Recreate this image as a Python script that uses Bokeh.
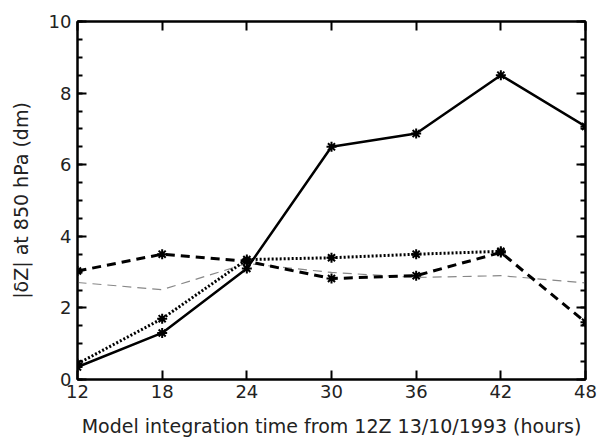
from bokeh.plotting import figure
from bokeh.models import LinearAxis, FixedTicker, Range1d, CustomJSTickFormatter
from bokeh.embed import file_html
from bokeh.resources import INLINE

hours = [12, 18, 24, 30, 36, 42, 48]
solid = [0.35, 1.3, 3.1, 6.5, 6.87, 8.5, 7.07]
thick_dash = [3.03, 3.5, 3.3, 2.82, 2.9, 3.55, 1.6]
dotted_hours = [12, 18, 24, 30, 36, 42]
dotted = [0.44, 1.7, 3.35, 3.4, 3.5, 3.58]
thin_dash = [2.71, 2.51, 3.24, 2.99, 2.85, 2.9, 2.7]
x_ticks = [12, 18, 24, 30, 36, 42, 48]
y_ticks = [0, 2, 4, 6, 8, 10]

FONT = "DejaVu Sans"

p = figure(width=597, height=439, output_backend="svg", toolbar_location=None,
           x_range=Range1d(12, 48), y_range=Range1d(0, 10),
           x_axis_location=None, y_axis_location=None,
           min_border_left=77, min_border_right=12, min_border_top=21, min_border_bottom=60)
p.grid.visible = False
p.outline_line_color = "black"
p.outline_line_width = 2
p.background_fill_color = "white"

def style(ax, labels=True, minor=False):
    ax.axis_line_color = "black"
    ax.axis_line_width = 2
    ax.major_tick_in = 9
    ax.major_tick_out = 0
    ax.major_tick_line_width = 2
    ax.minor_tick_in = 5 if minor else 0
    ax.minor_tick_out = 0
    ax.minor_tick_line_width = 2
    ax.major_label_text_font = FONT
    ax.major_label_text_font_size = "18px"
    ax.major_label_text_color = "#222"
    ax.axis_label_text_font = FONT
    ax.axis_label_text_font_style = "normal"
    ax.axis_label_text_font_size = "19px"
    ax.axis_label_text_color = "#222"
    if not labels:
        ax.formatter = CustomJSTickFormatter(code="return ''")
        ax.major_label_standoff = 0

xb = LinearAxis(ticker=FixedTicker(ticks=x_ticks),
                axis_label="Model integration time from 12Z 13/10/1993 (hours)")
style(xb)
xb.major_label_standoff = 5
xb.axis_label_standoff = 14
p.add_layout(xb, "below")

xt = LinearAxis(ticker=FixedTicker(ticks=x_ticks))
style(xt, labels=False)
p.add_layout(xt, "above")

yminor = [i * 0.5 for i in range(21)]
yl = LinearAxis(ticker=FixedTicker(ticks=y_ticks, minor_ticks=yminor),
                axis_label="|δZ| at 850 hPa (dm)")
style(yl, minor=True)
yl.major_label_standoff = 6
yl.axis_label_standoff = 14
p.add_layout(yl, "left")

yr = LinearAxis(ticker=FixedTicker(ticks=y_ticks, minor_ticks=yminor))
style(yr, labels=False, minor=True)
p.add_layout(yr, "right")

p.line(hours, thin_dash, line_color="#888888", line_width=1.2, line_dash="9 6")
p.line(hours, solid, line_color="black", line_width=2.5)
p.scatter(hours, solid, marker="asterisk", size=10, line_color="black", line_width=2)
p.line(hours, thick_dash, line_color="black", line_width=3, line_dash="9 6")
p.scatter(hours, thick_dash, marker="asterisk", size=10, line_color="black", line_width=2)
p.line(dotted_hours, dotted, line_color="black", line_width=3, line_dash="2 2")
p.scatter(dotted_hours, dotted, marker="asterisk", size=10, line_color="black", line_width=2)

open("out.html", "w").write(file_html(p, INLINE))
